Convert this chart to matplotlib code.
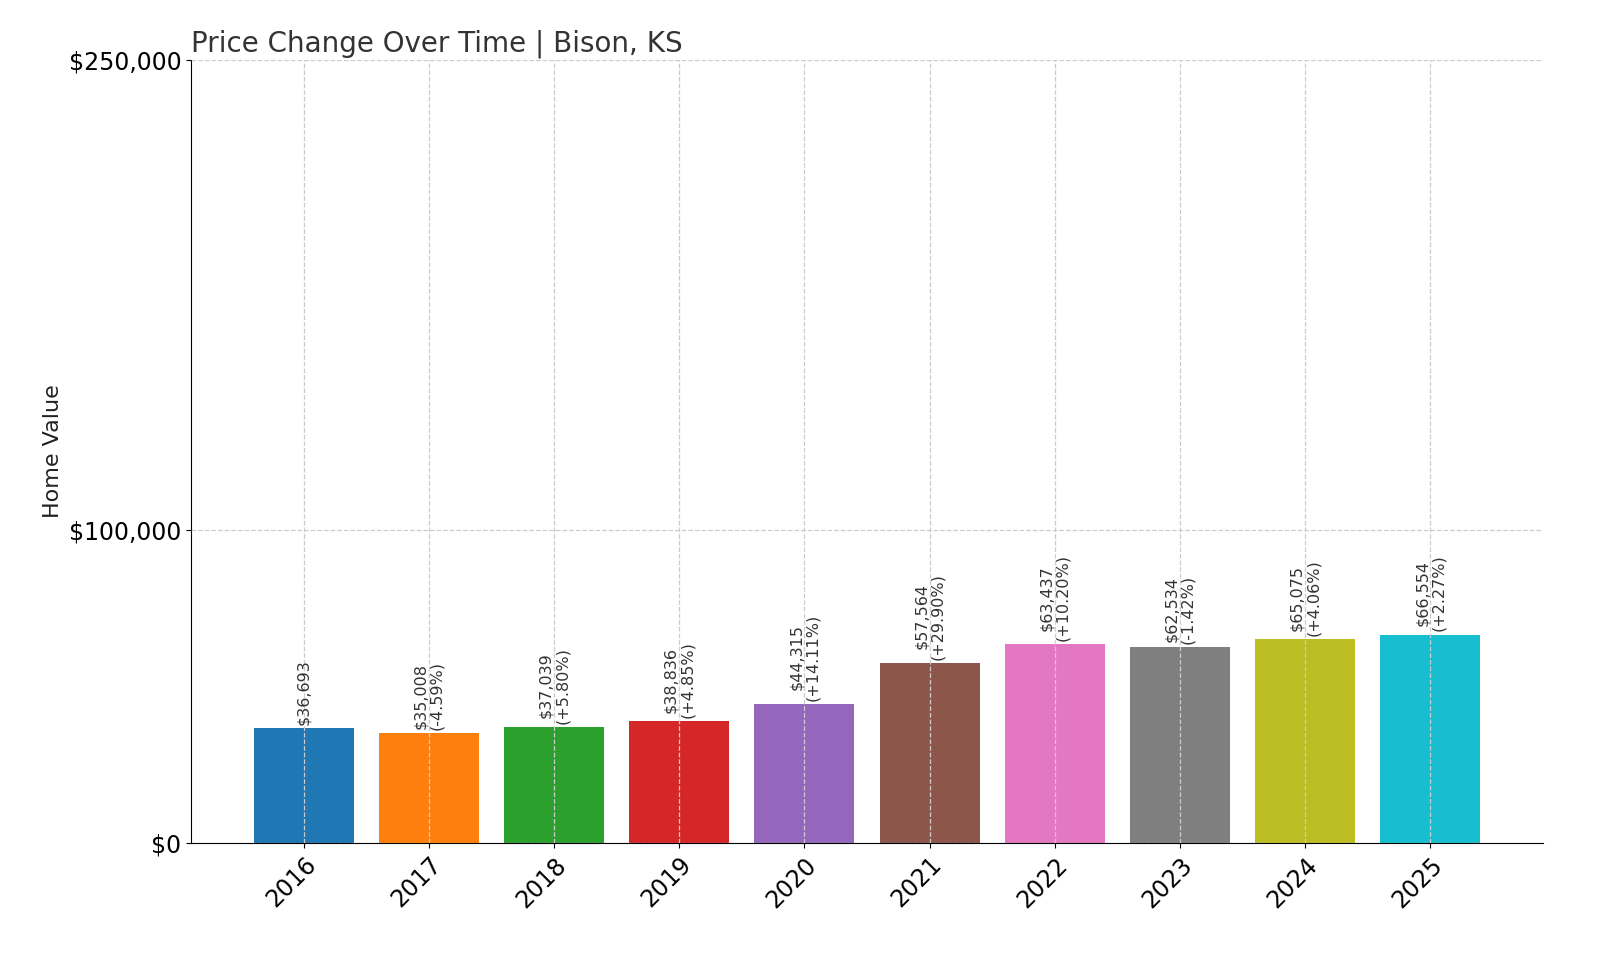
import numpy as np
import matplotlib.pyplot as plt

years = ['2016', '2017', '2018', '2019', '2020', '2021', '2022', '2023', '2024', '2025']
values = [36693, 35008, 37039, 38836, 44315, 57564, 63437, 62534, 65075, 66554]
changes = [None, '-4.59%', '+5.80%', '+4.85%', '+14.11%', '+29.90%', '+10.20%', '-1.42%', '+4.06%', '+2.27%']
colors = ['#1f77b4', '#ff7f0e', '#2ca02c', '#d62728', '#9467bd',
          '#8c564b', '#e377c2', '#7f7f7f', '#bcbd22', '#17becf']

fig = plt.figure(figsize=(16, 9.6), dpi=100)
ax = fig.add_axes([191 / 1600, 1 - 843 / 960, (1543 - 191) / 1600, (843 - 60) / 960])

x = np.arange(len(years))
ax.bar(x, values, color=colors, width=0.8)

for i, v in enumerate(values):
    txt = f'${v:,}' if changes[i] is None else f'${v:,}\n({changes[i]})'
    ax.text(x[i], v + 1000, txt, rotation=90, ha='center', va='bottom',
            fontsize=11.5, color='#333333', linespacing=1.1)

ax.set_ylim(0, 250000)
ax.set_xlim(-0.9, 9.9)
ax.set_yticks([0, 100000, 250000])
ax.set_yticklabels(['$0', '$100,000', '$250,000'], fontsize=17)
ax.set_xticks(x)
ax.set_xticklabels(years, rotation=45, ha='right', rotation_mode='anchor', fontsize=17)
ax.set_ylabel('Home Value', fontsize=16, color='#222222')
ax.set_title('Price Change Over Time | Bison, KS', fontsize=20, loc='left', color='#333333')

ax.grid(True, linestyle='--', color='#cccccc', linewidth=0.9)
ax.set_axisbelow(False)
for s in ['top', 'right']:
    ax.spines[s].set_visible(False)

fig.savefig('out.png', dpi=100)
